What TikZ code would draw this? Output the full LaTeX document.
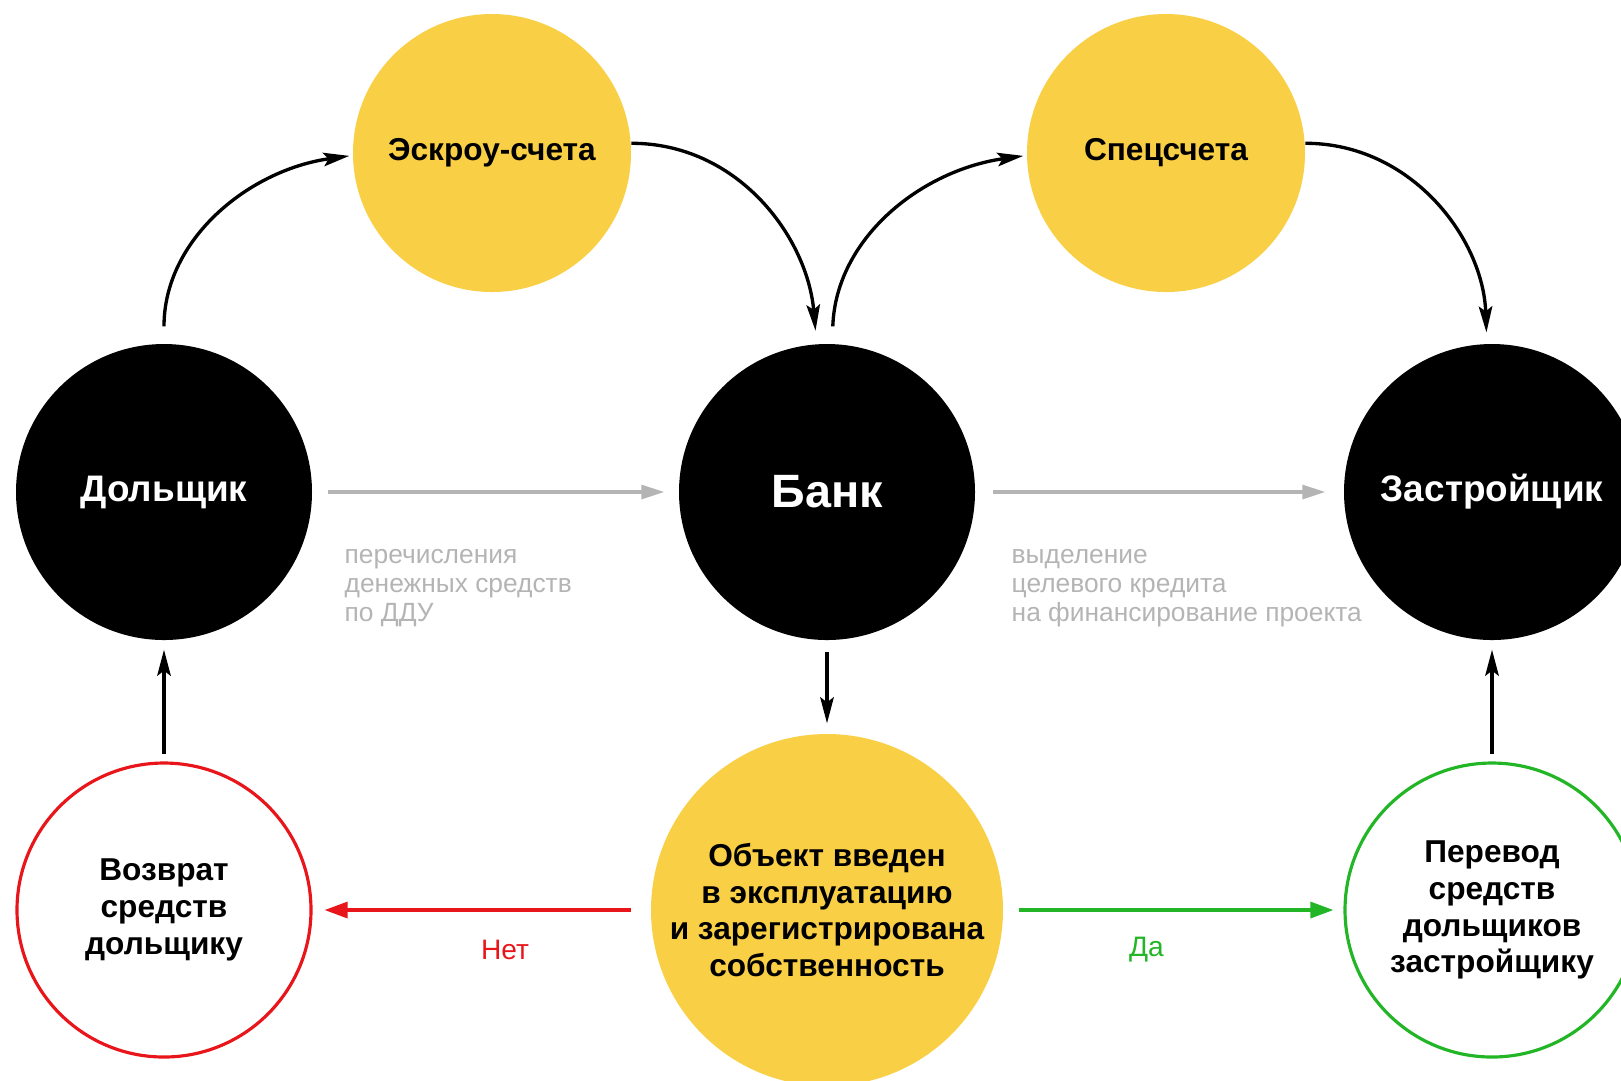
\documentclass[tikz,border=0pt]{standalone}
\usepackage{fontspec}
\setmainfont{Liberation Sans}
\usetikzlibrary{arrows.meta}

\definecolor{accountyellow}{HTML}{F9CF45}
\definecolor{nored}{HTML}{E8151B}
\definecolor{yesgreen}{HTML}{22B526}
\definecolor{notegray}{HTML}{B4B4B4}

\def\accounts{{(492,-153)/escrow/Эскроу-счета}, {(1166,-153)/spec/Спецсчета}}
\def\parties{{(164,-492)/dol/Дольщик}, {(1492,-492)/zastr/Застройщик}}

\tikzstyle{party}=[circle,fill=black,text=white,minimum size=29.6mm,inner sep=0pt,font=\bfseries\fontsize{10.5}{12}\selectfont]
\tikzstyle{account}=[circle,fill=accountyellow,minimum size=27.8mm,inner sep=0pt,font=\bfseries\fontsize{9}{10.5}\selectfont]
\tikzstyle{outcome}=[circle,draw,line width=0.9pt,minimum size=29.4mm,inner sep=0pt,align=center,font=\bfseries\fontsize{9}{10.5}\selectfont]
\tikzstyle{flow}=[draw,line width=0.95pt,-{Stealth[length=2.6mm,width=1.35mm,inset=0.5mm]}]
\tikzstyle{money}=[draw,notegray,line width=0.9pt,-{Triangle[length=2.3mm,width=1.4mm]}]
\tikzstyle{branch}=[draw,line width=0.9pt,-{Triangle[length=2.3mm,width=1.6mm]}]
\tikzstyle{note}=[inner sep=0pt,align=left,text=notegray,font=\fontsize{7.5}{8.3}\selectfont]
\tikzstyle{answer}=[inner sep=0pt,font=\fontsize{8}{9}\selectfont]

\begin{document}
\begin{tikzpicture}[x=0.1mm,y=0.1mm]
  \useasboundingbox (0,0) rectangle (1621,-1080);

  % First we draw the circles
  \foreach \pos/\name/\txt in \accounts
    \node[account] (\name) at \pos {\txt};

  \foreach \pos/\name/\txt in \parties
    \node[party] (\name) at \pos {\txt};

  \node[party,font=\bfseries\fontsize{13.3}{15}\selectfont] (bank) at (827,-492) {Банк};

  \node[circle,fill=accountyellow,minimum size=35.2mm,inner sep=0pt,align=center,
        font=\bfseries\fontsize{9}{10.5}\selectfont] (obj) at (827,-910)
    {Объект введен\\в эксплуатацию\\и зарегистрирована\\собственность};
  \node[outcome,nored,text=black] (ret) at (164,-910) {Возврат\\средств\\дольщику};
  \node[outcome,yesgreen,text=black] (transfer) at (1492,-910) {Перевод\\средств\\дольщиков\\застройщику};

  % Curved money flows through the accounts
  \path[flow,shorten <=1.7mm,shorten >=0.3mm] (dol) to[out=90,in=188] (escrow.181);
  \path[flow,shorten >=1.3mm] (escrow.4) to[out=0,in=95] (bank.94);
  \path[flow,shorten <=1.7mm,shorten >=0.3mm] (bank.88) to[out=88,in=188] (spec.181);
  \path[flow,shorten >=1.1mm] (spec.4) to[out=0,in=92] (zastr);

  % Straight connections
  \path[money,shorten <=1.5mm,shorten >=1.4mm] (dol) -- (bank);
  \path[money,shorten <=1.7mm,shorten >=1.8mm] (bank) -- (zastr);
  \path[flow,shorten <=1.1mm,shorten >=1mm] (bank) -- (obj);
  \path[flow,shorten <=0.7mm,shorten >=0.9mm] (ret) -- (dol);
  \path[flow,shorten <=0.7mm,shorten >=0.9mm] (transfer) -- (zastr);

  \path[branch,nored,shorten <=1.9mm,shorten >=1.2mm] (obj) -- (ret)
    node[answer,pos=0.43,yshift=-4.0mm] (no) {Нет};
  \path[branch,yesgreen,shorten <=1.5mm,shorten >=1mm] (obj) -- (transfer)
    node[answer,pos=0.42,yshift=-4.0mm] (yes) {Да};

  \node[note,anchor=west] (paynote) at (344,-588) {перечисления\\денежных средств\\по ДДУ};
  \node[note,anchor=west] (loannote) at (1011,-588) {выделение\\целевого кредита\\на финансирование проекта};
\end{tikzpicture}
\end{document}
